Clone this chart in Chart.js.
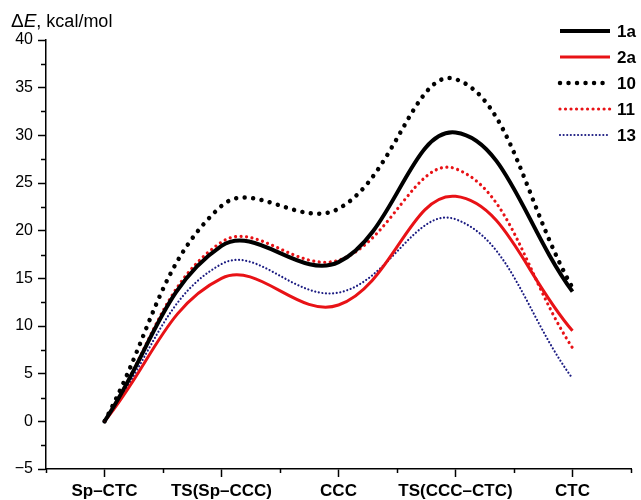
<!DOCTYPE html>
<html>
<head>
<meta charset="utf-8">
<script src="https://cdn.jsdelivr.net/npm/chart.js@4.4.1/dist/chart.umd.min.js"></script>
<style>
  html, body { margin: 0; padding: 0; background: #fff; }
</style>
</head>
<body>
<canvas id="chart" width="641" height="500"></canvas>
<script>
// data (kcal/mol at each stationary point)
const categories = ['Sp–CTC', 'TS(Sp–CCC)', 'CCC', 'TS(CCC–CTC)', 'CTC'];
const seriesNames = ['1a', '2a', '10', '11', '13'];
const e1a = [0, 18.4, 16.7, 30.3, 13.6];
const e2a = [0, 15.0, 12.2, 23.6, 9.5];
const e10 = [0, 22.6, 22.3, 35.9, 14.0];
const e11 = [0, 18.8, 16.9, 26.5, 7.7];
const e13 = [0, 16.5, 13.5, 21.2, 4.5];
const yTicksMajor = [-5, 0, 5, 10, 15, 20, 25, 30, 35, 40];

const RED = 'rgb(232,18,22)';
const NAVY = 'rgb(28,28,130)';

function line(label, data, color, width, dash) {
    return {
        label: label,
        data: data,
        borderColor: color,
        backgroundColor: color,
        borderWidth: width,
        borderDash: dash,
        borderCapStyle: dash.length ? 'round' : 'butt',
        pointRadius: 0,
        tension: 0.4,
        fill: false
    };
}

// minor ticks + axis title + legend drawn by hand
const extras = {
    id: 'extras',
    afterDraw(chart) {
        const ctx = chart.ctx;
        const xs = chart.scales.x;
        const ys = chart.scales.y;
        const area = chart.chartArea;
        ctx.save();
        ctx.strokeStyle = '#000';
        ctx.lineWidth = 1.5;
        ctx.setLineDash([]);
        // y minor ticks
        for (let v = -2.5; v < 40; v += 5) {
            const py = Math.round(ys.getPixelForValue(v)) + 0.5;
            ctx.beginPath();
            ctx.moveTo(area.left - 5, py);
            ctx.lineTo(area.left, py);
            ctx.stroke();
        }
        // x minor ticks between categories
        for (let i = 0; i <= categories.length; i++) {
            const px = Math.round(xs.getPixelForValue(i - 0.5)) + 0.5;
            ctx.beginPath();
            ctx.moveTo(px, area.bottom);
            ctx.lineTo(px, area.bottom + 4);
            ctx.stroke();
        }

        // axis title
        ctx.fillStyle = '#000';
        ctx.textBaseline = 'alphabetic';
        ctx.textAlign = 'left';
        let tx = 11;
        ctx.font = '19px Arial, "Liberation Sans", sans-serif';
        ctx.fillText('Δ', tx, 27);
        tx += ctx.measureText('Δ').width;
        ctx.font = 'italic 19px Arial, "Liberation Sans", sans-serif';
        ctx.fillText('E', tx, 27);
        tx += ctx.measureText('E').width;
        ctx.font = '18px Arial, "Liberation Sans", sans-serif';
        ctx.fillText(', kcal/mol', tx, 27);

        // legend
        chart.data.datasets.forEach((ds, i) => {
            const y = 31 + i * 26;
            ctx.strokeStyle = ds.borderColor;
            ctx.lineWidth = ds.borderWidth;
            ctx.lineCap = ds.borderCapStyle;
            ctx.setLineDash(ds.borderDash);
            ctx.beginPath();
            ctx.moveTo(560, y);
            ctx.lineTo(610, y);
            ctx.stroke();
            ctx.setLineDash([]);
            ctx.fillStyle = '#000';
            ctx.font = 'bold 17px Arial, "Liberation Sans", sans-serif';
            ctx.textBaseline = 'middle';
            ctx.fillText(ds.label, 617, y + 1);
        });
        ctx.restore();
    }
};

new Chart(document.getElementById('chart'), {
    type: 'line',
    data: {
        labels: categories,
        datasets: [
            line(seriesNames[0], e1a, '#000', 4, []),
            line(seriesNames[1], e2a, RED, 3, []),
            line(seriesNames[2], e10, '#000', 4.5, [0.01, 8.5]),
            line(seriesNames[3], e11, RED, 3.2, [0.01, 5.5]),
            line(seriesNames[4], e13, NAVY, 2.2, [0.01, 3.6])
        ]
    },
    options: {
        responsive: false,
        animation: false,
        layout: { padding: { top: 40, right: 10, left: 0, bottom: 0 } },
        plugins: { legend: { display: false }, tooltip: { enabled: false } },
        scales: {
            x: {
                offset: true,
                grid: { offset: false, drawOnChartArea: false, tickLength: 8, tickColor: '#000', tickWidth: 1.5 },
                border: { color: '#000', width: 1.5 },
                ticks: {
                    color: '#000', maxRotation: 0, autoSkip: false, padding: 4,
                    font: { family: 'Arial, "Liberation Sans", sans-serif', size: 17, weight: 'bold' }
                },
                afterFit(scale) { scale.height = 31; }
            },
            y: {
                min: -5,
                max: 40,
                afterBuildTicks(scale) { scale.ticks = yTicksMajor.map(v => ({ value: v })); },
                grid: { drawOnChartArea: false, tickLength: 8, tickColor: '#000', tickWidth: 1.5 },
                border: { color: '#000', width: 1.5 },
                ticks: {
                    color: '#000', padding: 5,
                    font: { family: 'Arial, "Liberation Sans", sans-serif', size: 16 },
                    callback: v => (v < 0 ? '\u2212' + Math.abs(v) : String(v))
                },
                afterFit(scale) { scale.width = 46; }
            }
        }
    },
    plugins: [extras]
});
</script>
</body>
</html>
